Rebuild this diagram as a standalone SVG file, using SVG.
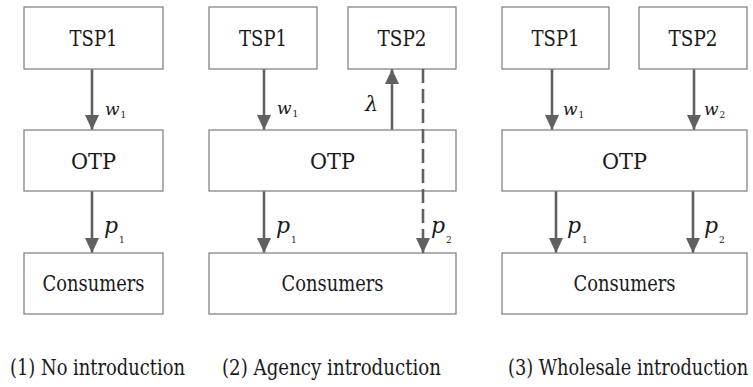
<svg xmlns="http://www.w3.org/2000/svg" width="753" height="387" viewBox="0 0 753 387">
<style>
.box{fill:#fff;stroke:#858585;stroke-width:1.3}
.lbl{font-family:'DejaVu Serif',serif;font-size:21.5px;fill:#1a1a1a;text-anchor:middle}
.cap{font-family:'DejaVu Serif',serif;font-size:21.5px;fill:#1a1a1a}
.var{font-family:'DejaVu Serif',serif;font-style:italic;fill:#1a1a1a}
.sub{font-family:'DejaVu Serif',serif;font-style:normal;font-size:9px;fill:#1a1a1a}
.arr{stroke:#606060;stroke-width:2.6;fill:none;marker-end:url(#ah)}
.dash{stroke-dasharray:14 6}
</style>
<defs>
<marker id="ah" markerUnits="userSpaceOnUse" markerWidth="16" markerHeight="15" refX="15" refY="7" orient="auto" viewBox="0 0 16 15">
<path d="M0,0 L15,7 L0,14 z" fill="#606060"/>
</marker>
</defs>
<rect width="753" height="387" fill="#fff"/>
<g id="connectors">
<line class="arr" x1="92" y1="69" x2="92" y2="130"/>
<line class="arr" x1="92" y1="191" x2="92" y2="253"/>
<line class="arr" x1="264" y1="69" x2="264" y2="130"/>
<line class="arr" x1="392" y1="130" x2="392" y2="69"/>
<line class="arr" x1="264" y1="191" x2="264" y2="253"/>
<line class="arr" x1="552" y1="69" x2="552" y2="130"/>
<line class="arr" x1="694" y1="69" x2="694" y2="130"/>
<line class="arr" x1="556" y1="191" x2="556" y2="253"/>
<line class="arr" x1="693" y1="191" x2="693" y2="253"/>
</g>
<g id="p1-tsp1"><rect class="box" x="24" y="7" width="139" height="62"/><text class="lbl" x="93.5" y="46" textLength="48" lengthAdjust="spacingAndGlyphs">TSP1</text></g>
<g id="p1-otp"><rect class="box" x="24" y="130" width="139" height="61"/><text class="lbl" x="93.5" y="169" textLength="45" lengthAdjust="spacingAndGlyphs">OTP</text></g>
<g id="p1-cons"><rect class="box" x="24" y="253" width="139" height="61"/><text class="lbl" x="93.5" y="291" textLength="102" lengthAdjust="spacingAndGlyphs">Consumers</text></g>
<g id="p2-tsp1"><rect class="box" x="209" y="7" width="108" height="62"/><text class="lbl" x="263" y="46" textLength="48" lengthAdjust="spacingAndGlyphs">TSP1</text></g>
<g id="p2-tsp2"><rect class="box" x="348" y="7" width="108" height="62"/><text class="lbl" x="402" y="46" textLength="49" lengthAdjust="spacingAndGlyphs">TSP2</text></g>
<g id="p2-otp"><rect class="box" x="209" y="130" width="247" height="61"/><text class="lbl" x="332.5" y="169" textLength="45" lengthAdjust="spacingAndGlyphs">OTP</text></g>
<g id="p2-cons"><rect class="box" x="209" y="253" width="247" height="61"/><text class="lbl" x="332.5" y="291" textLength="102" lengthAdjust="spacingAndGlyphs">Consumers</text></g>
<g id="p3-tsp1"><rect class="box" x="502" y="7" width="107" height="62"/><text class="lbl" x="555.5" y="46" textLength="48" lengthAdjust="spacingAndGlyphs">TSP1</text></g>
<g id="p3-tsp2"><rect class="box" x="639" y="7" width="108" height="62"/><text class="lbl" x="693" y="46" textLength="49" lengthAdjust="spacingAndGlyphs">TSP2</text></g>
<g id="p3-otp"><rect class="box" x="502" y="130" width="245" height="61"/><text class="lbl" x="624.5" y="169" textLength="45" lengthAdjust="spacingAndGlyphs">OTP</text></g>
<g id="p3-cons"><rect class="box" x="502" y="253" width="245" height="61"/><text class="lbl" x="624.5" y="291" textLength="102" lengthAdjust="spacingAndGlyphs">Consumers</text></g>
<g id="dashed">
<line class="arr dash" x1="423" y1="69" x2="423" y2="253"/>
</g>
<g id="labels">
<text class="var" x="105" y="115" font-size="17">w<tspan class="sub" dx="1" dy="3">1</tspan></text>
<text class="var" x="104" y="233" font-size="22">p<tspan class="sub" dx="1" dy="10">1</tspan></text>
<text class="var" x="277" y="114" font-size="17">w<tspan class="sub" dx="1" dy="3">1</tspan></text>
<text class="var" x="365" y="111" font-size="21">λ</text>
<text class="var" x="276" y="233" font-size="22">p<tspan class="sub" dx="1" dy="10">1</tspan></text>
<text class="var" x="431" y="233" font-size="22">p<tspan class="sub" dx="1" dy="10">2</tspan></text>
<text class="var" x="563" y="115" font-size="17">w<tspan class="sub" dx="1" dy="3">1</tspan></text>
<text class="var" x="704" y="115" font-size="17">w<tspan class="sub" dx="1" dy="3">2</tspan></text>
<text class="var" x="567" y="233" font-size="22">p<tspan class="sub" dx="1" dy="10">1</tspan></text>
<text class="var" x="704" y="233" font-size="22">p<tspan class="sub" dx="1" dy="10">2</tspan></text>
</g>
<g id="captions">
<text class="cap" x="10" y="375" textLength="175" lengthAdjust="spacingAndGlyphs">(1) No introduction</text>
<text class="cap" x="222" y="375" textLength="219" lengthAdjust="spacingAndGlyphs">(2) Agency introduction</text>
<text class="cap" transform="translate(508,375) scale(0.87,1)" x="0" y="0" textLength="276" lengthAdjust="spacingAndGlyphs">(3) Wholesale introduction</text>
</g>
</svg>
